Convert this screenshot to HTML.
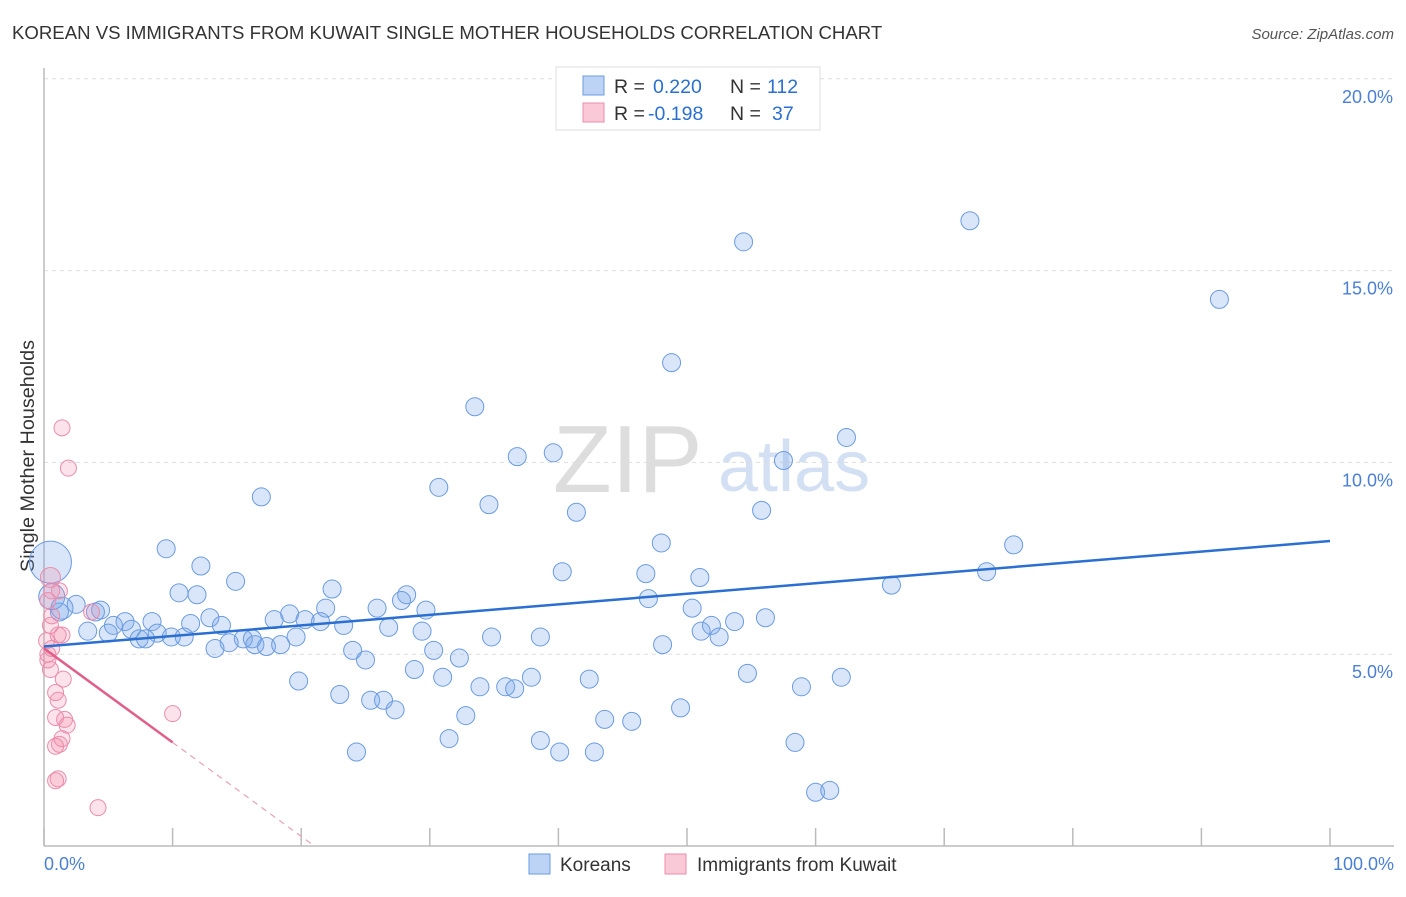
<!DOCTYPE html>
<html><head><meta charset="utf-8"><style>
body{margin:0;background:#fff;font-family:"Liberation Sans",sans-serif;}
svg text{font-family:"Liberation Sans",sans-serif;}
</style></head><body>
<svg id="c" width="1406" height="892" xmlns="http://www.w3.org/2000/svg">
<text x="12" y="39" font-size="18.6" fill="#333">KOREAN VS IMMIGRANTS FROM KUWAIT SINGLE MOTHER HOUSEHOLDS CORRELATION CHART</text>
<text x="1394" y="39" font-size="15" fill="#555" text-anchor="end" font-style="italic">Source: ZipAtlas.com</text>
<text x="553" y="492" font-size="96" fill="#ddd" font-family="Liberation Serif">ZIP</text>
<text x="718" y="491" font-size="72" fill="#d3e0f3">atlas</text>
<g id="grid"></g>
<line x1="44" y1="68" x2="44" y2="846" stroke="#bbb" stroke-width="1.5"/>
<line x1="44" y1="846" x2="1394" y2="846" stroke="#bbb" stroke-width="1.5"/>
<text transform="translate(34,456) rotate(-90)" font-size="19.8" fill="#333" text-anchor="middle">Single Mother Households</text>
<text x="44" y="870" font-size="18" fill="#4a7fd4">0.0%</text>
<text x="1394" y="870" font-size="18" fill="#4a7fd4" text-anchor="end">100.0%</text>
<g id="pts"></g>
<g id="lines"></g>
<g>
<rect x="556" y="67" width="264" height="63" fill="#fff" stroke="#ddd"/>
<rect x="583" y="76" width="21" height="19" fill="#bcd3f5" stroke="#6b9be0"/>
<rect x="583" y="103" width="21" height="19" fill="#f9c9d7" stroke="#ea8dac"/>
<text x="614" y="93" font-size="19.5" fill="#333">R = <tspan x="653" fill="#2a6fd1">0.220</tspan><tspan x="730">N = </tspan><tspan x="767" fill="#2a6fd1">112</tspan></text>
<text x="614" y="120" font-size="19.5" fill="#333">R = <tspan x="648" fill="#2a6fd1">-0.198</tspan><tspan x="730">N = </tspan><tspan x="772" fill="#2a6fd1">37</tspan></text>
</g>
<g>
<rect x="529" y="854" width="21" height="20" fill="#bcd3f5" stroke="#6b9be0"/>
<text x="560" y="871" font-size="19" fill="#333">Koreans</text>
<rect x="665" y="854" width="21" height="20" fill="#f9c9d7" stroke="#ea8dac"/>
<text x="697" y="871" font-size="19" fill="#333">Immigrants from Kuwait</text>
</g>
</svg>
<script>
const yTicks=[5,10,15,20];
const xTicks=[0,10,20,30,40,50,60,70,80,90,100];
const koreanX=[72.0,54.4,91.4,48.8,33.5,62.4,39.6,36.8,57.5,30.7,16.9,34.6,41.4,55.8,48.0,75.4,9.5,12.2,40.3,46.8,73.3,51.0,14.9,65.9,22.4,10.5,11.9,28.2,27.8,47.0,2.5,1.2,4.4,4.0,21.9,25.9,29.7,50.4,19.1,12.9,56.1,17.9,20.3,21.5,6.3,8.4,53.7,5.4,11.4,13.8,23.3,51.9,6.8,26.8,3.4,5.0,8.8,29.4,51.1,7.4,7.9,9.9,10.9,15.5,16.2,19.6,34.8,38.6,52.5,14.4,13.3,16.4,17.3,18.4,48.1,24.0,30.3,25.0,32.3,28.8,54.7,31.0,37.9,62.0,42.4,19.8,33.9,35.9,36.6,58.9,23.0,25.4,26.4,27.3,49.5,32.8,43.6,45.7,31.5,38.6,58.4,24.3,40.1,42.8,60.0,61.1,0.5,0.6,1.4];
const koreanY=[16.3,15.75,14.25,12.6,11.45,10.65,10.25,10.15,10.05,9.35,9.1,8.9,8.7,8.75,7.9,7.85,7.75,7.3,7.15,7.1,7.15,7.0,6.9,6.8,6.7,6.6,6.55,6.55,6.4,6.45,6.3,6.1,6.15,6.1,6.2,6.2,6.15,6.2,6.05,5.95,5.95,5.9,5.9,5.85,5.85,5.85,5.85,5.75,5.8,5.75,5.75,5.75,5.65,5.7,5.6,5.55,5.55,5.6,5.6,5.4,5.4,5.45,5.45,5.4,5.4,5.45,5.45,5.45,5.45,5.3,5.15,5.25,5.2,5.25,5.25,5.1,5.1,4.85,4.9,4.6,4.5,4.4,4.4,4.4,4.35,4.3,4.15,4.15,4.1,4.15,3.95,3.8,3.8,3.55,3.6,3.4,3.3,3.25,2.8,2.75,2.7,2.45,2.45,2.45,1.4,1.45,7.4,6.5,6.2];
const kuwaitX=[1.4,1.9,0.5,0.6,0.3,0.6,0.5,1.1,1.4,0.2,3.7,0.3,0.5,1.5,0.9,1.1,0.9,1.6,1.8,1.4,1.2,0.9,1.1,0.9,4.2,10.0,0.3,0.6,1.2];
const kuwaitY=[10.9,9.85,7.0,6.65,6.4,6.0,5.75,5.5,5.5,5.35,6.1,5.0,4.6,4.35,4.0,3.8,3.35,3.3,3.15,2.8,2.65,2.6,1.75,1.7,1.0,3.45,4.85,5.15,6.65];
const koreanTrend=[5.2,7.95];
const kuwaitTrend=[5.15,2.7];
const kuwaitSolidEnd=10;
const NS='http://www.w3.org/2000/svg';
const sx=v=>44+v*12.86;
const sy=v=>846-v*38.36;
function mk(t,a,p){const e=document.createElementNS(NS,t);for(const k in a)e.setAttribute(k,a[k]);p.appendChild(e);return e;}
const grid=document.getElementById('grid');
yTicks.forEach(t=>{
  const l=mk('line',{x1:44,x2:1394,y1:sy(t),y2:sy(t),stroke:'#ddd','stroke-dasharray':'4,4'},grid);
  
  
  const tx=mk('text',{x:1393,y:sy(t)+24,'font-size':18,fill:'#4a7fd4','text-anchor':'end'},grid);
  tx.textContent=t.toFixed(1)+'%';
  
  
});
xTicks.forEach(t=>{
  const l=mk('line',{x1:sx(t),x2:sx(t),y1:828,y2:846,stroke:'#bbb','stroke-width':1.5},grid);
  
  
});
const pts=document.getElementById('pts');
koreanX.forEach((x,i)=>{
  const n=koreanX.length;
  const r=i===n-3?21:(i===n-2?13:(i===n-1?11:9));
  const c=mk('circle',{cx:sx(x),cy:sy(koreanY[i]),r:r,fill:'rgba(120,165,235,0.28)',stroke:'#6b9be0','stroke-width':1},pts);
  
  
});
kuwaitX.forEach((x,i)=>{
  const r=i===2?10:8;
  const c=mk('circle',{cx:sx(x),cy:sy(kuwaitY[i]),r:r,fill:'rgba(245,140,170,0.25)',stroke:'#ea8dac','stroke-width':1},pts);
  
  
});
const lines=document.getElementById('lines');
const bl=mk('line',{x1:sx(0),y1:sy(koreanTrend[0]),x2:sx(100),y2:sy(koreanTrend[1]),stroke:'#2a6fd1','stroke-width':2.5},lines);


const slope=(kuwaitTrend[1]-kuwaitTrend[0])/kuwaitSolidEnd;
const pl=mk('line',{x1:sx(0),y1:sy(kuwaitTrend[0]),x2:sx(kuwaitSolidEnd),y2:sy(kuwaitTrend[1]),stroke:'#e0608a','stroke-width':2.5},lines);


const zeroX=-kuwaitTrend[0]/slope;
const pd=mk('line',{x1:sx(kuwaitSolidEnd),y1:sy(kuwaitTrend[1]),x2:sx(zeroX),y2:sy(0),stroke:'#e8a0b8','stroke-width':1.2,'stroke-dasharray':'6,5'},lines);


</script>
</body></html>
